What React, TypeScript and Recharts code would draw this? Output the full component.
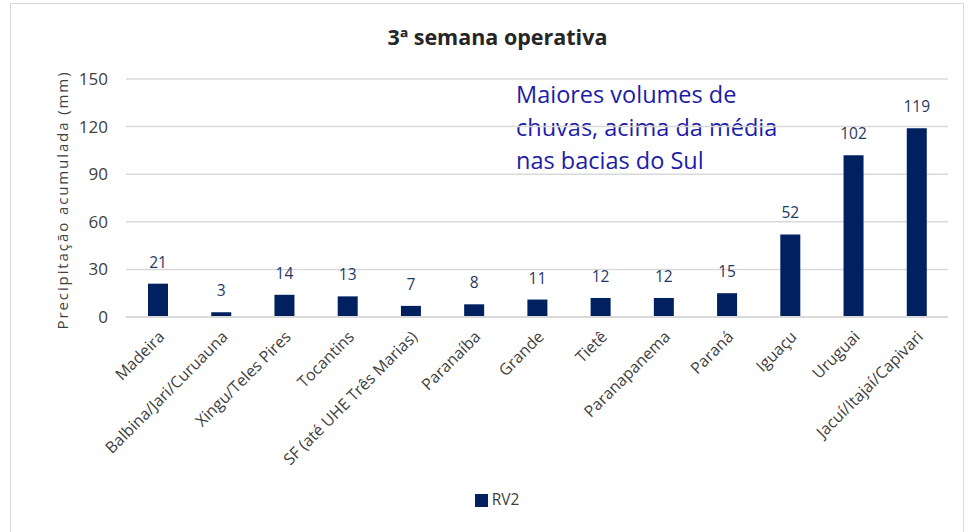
import React from 'react';
import { BarChart, Bar, XAxis, YAxis, CartesianGrid, Legend, LabelList } from 'recharts';

const bacias = [
  'Madeira',
  'Balbina/Jari/Curuauna',
  'Xingu/Teles Pires',
  'Tocantins',
  'SF (até UHE Três Marias)',
  'Paranaíba',
  'Grande',
  'Tietê',
  'Paranapanema',
  'Paraná',
  'Iguaçu',
  'Uruguai',
  'Jacuí/Itajaí/Capivari',
];
const rv2 = [21, 3, 14, 13, 7, 8, 11, 12, 12, 15, 52, 102, 119];
const yTicks = [0, 30, 60, 90, 120, 150];

const data = bacias.map((nome, i) => ({ nome, RV2: rv2[i] }));

const FONT = '"Open Sans", "Liberation Sans", sans-serif';
const BAR_COLOR = '#002060';

// rotated category label, anchored at its end next to the tick
const CategoryTick = (props: any) => {
  const { x, y, payload } = props;
  return (
    <g transform={`translate(${x + 5},${y + 10})`}>
      <text
        textAnchor="end"
        transform="rotate(-45)"
        fontSize={16}
        fill="#404040"
        fontFamily={FONT}
        dy={4}
      >
        {payload.value}
      </text>
    </g>
  );
};

const App: React.FC = () => {
  return (
    <div style={{ position: 'absolute', left: 0, top: 0, width: 973, height: 532, background: '#fff', overflow: 'hidden', fontFamily: FONT }}>
      {/* chart frame */}
      <div style={{ position: 'absolute', left: 10, top: 3, width: 952, height: 560, border: '1px solid #d9d9d9' }} />

      <div style={{ position: 'absolute', left: 0, top: 22, width: 995, textAlign: 'center', fontSize: 21.5, fontWeight: 'bold', color: '#262626', fontFamily: '"Open Sans", sans-serif' }}>
        3ª semana operativa
      </div>

      <div style={{ position: 'absolute', left: 516, top: 78, fontSize: 23.5, lineHeight: '33px', color: '#1c1ca8', fontFamily: '"Open Sans", sans-serif' }}>
        Maiores volumes de<br />chuvas, acima da média<br />nas bacias do Sul
      </div>

      <div style={{ position: 'absolute', left: 0, top: 0 }}>
        <BarChart
          width={973}
          height={532}
          data={data}
          margin={{ top: 79, right: 25, left: 76, bottom: 45 }}
          barCategoryGap="34%"
        >
          <CartesianGrid vertical={false} stroke="#d9d9d9" strokeWidth={1.5} />
          <XAxis
            dataKey="nome"
            interval={0}
            height={140}
            tick={<CategoryTick />}
            tickLine={false}
            axisLine={{ stroke: '#d9d9d9', strokeWidth: 2 }}
          />
          <YAxis
            width={50}
            domain={[0, 150]}
            ticks={yTicks}
            tickLine={false}
            axisLine={false}
            tickSize={0}
            tickMargin={18}
            tick={{ fontSize: 17, fill: '#404040', fontFamily: FONT }}
            label={{
              value: 'Precipitação acumulada (mm)',
              angle: -90,
              position: 'insideLeft',
              dx: -18,
              dy: 2,
              style: { textAnchor: 'middle', fontSize: 15, fill: '#404040', letterSpacing: 1.9, fontFamily: FONT },
            }}
          />
          <Legend
            verticalAlign="bottom"
            height={30}
            iconType="square"
            iconSize={13}
            wrapperStyle={{ top: 488, left: 66, fontSize: 15.5, fontFamily: FONT }}
            formatter={(v) => <span style={{ color: '#404040' }}>{v}</span>}
          />
          <Bar dataKey="RV2" fill={BAR_COLOR} barSize={20} isAnimationActive={false}>
            <LabelList dataKey="RV2" position="top" offset={16} fill="#1f3864" fontSize={15.5} fontFamily={FONT} />
          </Bar>
        </BarChart>
      </div>
    </div>
  );
};

export default App;
